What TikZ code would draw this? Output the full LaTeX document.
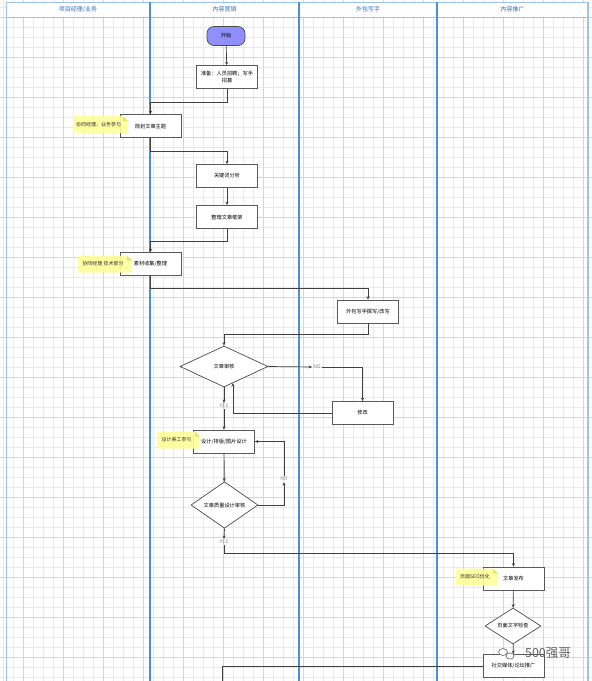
\documentclass[tikz,border=0pt]{standalone}
\usepackage{fontspec}
\setmainfont{Noto Sans CJK SC}
\usetikzlibrary{shapes.geometric,arrows.meta,shadows,calc}
\definecolor{lane}{HTML}{4A90D9}
\definecolor{lanelight}{HTML}{9CC3EA}
\definecolor{hdrtext}{HTML}{2F6FC0}
\definecolor{minorg}{HTML}{EAEAEA}
\definecolor{majorg}{HTML}{D6D6D6}
\definecolor{notey}{HTML}{FFFF99}
\definecolor{startfill}{HTML}{8F8FFF}
\tikzset{
  stepbox/.style={draw=black!65, fill=white, line width=0.7pt, minimum width=61pt, minimum height=23pt,
    inner sep=1pt, align=center, font=\fontsize{5.2}{6.4}\selectfont,
    drop shadow={opacity=0.25, shadow xshift=0.8pt, shadow yshift=-0.8pt}},
  decision/.style={diamond, draw=black!70, fill=white, line width=0.7pt, inner sep=0pt,
    font=\fontsize{5.2}{6.4}\selectfont},
  startbox/.style={draw=black!70, fill=startfill, rounded corners=7pt, line width=0.7pt,
    minimum width=38pt, minimum height=19pt, font=\fontsize{5.2}{6.4}\selectfont},
  notetext/.style={inner sep=0pt, font=\fontsize{5}{6}\selectfont, text=black!80},
  lbl/.style={inner sep=1pt, font=\fontsize{5}{6}\selectfont, text=black!45},
  arr/.style={draw=black!75, line width=0.7pt, -{Stealth[length=3.5pt,width=3pt]}},
  ln/.style={draw=black!75, line width=0.7pt},
  hdr/.style={draw=lanelight, fill=white, line width=0.8pt, font=\fontsize{6}{7}\selectfont, text=hdrtext}
}
\begin{document}
\begin{tikzpicture}[x=1pt,y=-1pt]
\useasboundingbox (0,0) rectangle (592,681);
\fill[white] (0,0) rectangle (592,681);
% grid
\foreach \x in {3.5,13.5,...,593.5} \draw[minorg, line width=0.4pt] (\x,0) -- (\x,681);
\foreach \y in {7,17,...,687} \draw[minorg, line width=0.4pt] (0,\y) -- (592,\y);
\foreach \x in {23.5,63.5,...,583.5} \draw[majorg, line width=0.5pt] (\x,0) -- (\x,681);
\foreach \y in {17,57,...,697} \draw[majorg, line width=0.5pt] (0,\y) -- (592,\y);
% headers
\node[hdr, minimum width=144pt, minimum height=15pt, inner sep=0pt] (h1) at (78,9.5) {项目经理/业务};
\node[hdr, minimum width=149pt, minimum height=15pt, inner sep=0pt] (h2) at (224.5,9.5) {内容营销};
\node[hdr, minimum width=138pt, minimum height=15pt, inner sep=0pt] (h3) at (368,9.5) {外包写手};
\node[hdr, minimum width=151pt, minimum height=15pt, inner sep=0pt] (h4) at (512.5,9.5) {内容推广};
% lane lines
\draw[lanelight, line width=0.9pt] (6,2) -- (6,681);
\draw[lane, line width=1.2pt] (150,2) -- (150,681);
\draw[lane, line width=1.2pt] (299,2) -- (299,681);
\draw[lane, line width=1.2pt] (437,2) -- (437,681);
\draw[lanelight, line width=1.2pt] (588,2) -- (588,681);
% nodes
\node[startbox] (start) at (226,36) {开始};
\node[stepbox] (prep) at (227,77) {准备：人员招聘；写手\\招募};
\node[stepbox] (plan) at (150.5,126) {规划文章主题};
\node[stepbox] (kw) at (227,176) {关键词分析};
\node[stepbox] (frame) at (227,217) {整理文章框架};
\node[stepbox] (mat) at (150.5,264) {素材收集/整理};
\node[stepbox] (write) at (368,311.5) {外包写手撰写/改写};
\node[decision, minimum width=88pt, minimum height=41pt] (d1) at (224,366.5) {文章审核};
\node[lbl] (no1) at (317,367) {NO};
\node[stepbox] (fix) at (362.5,413) {修改};
\node[lbl] (yes1) at (224,406) {YES};
\node[stepbox] (design) at (224,441.5) {设计/排版/图片设计};
\node[decision, minimum width=67pt, minimum height=32pt] (d2) at (224.5,505) {文章质量设计审核};
\node[lbl] (no2) at (284,479) {NO};
\node[lbl] (yes2) at (224,542) {YES};
\node[stepbox] (pub) at (513.5,578.5) {文章发布};
\node[decision, minimum width=56pt, minimum height=22pt] (d3) at (513,626) {页面文字检查};
\node[stepbox] (social) at (513.5,666) {社交媒体/论坛推广};
\coordinate (out) at (222,681);
% connectors
\draw[arr] (start) -- (prep);
\draw[arr] (prep.south) -- ++(0,13) -| (plan.north);
\draw[arr] (plan.south) -- ++(0,13) -| (kw.north);
\draw[arr] (kw) -- (frame);
\draw[arr] (frame.south) -- ++(0,12) -| (mat.north);
\draw[arr] (mat.south) -- ++(0,12) -| (write.north);
\draw[arr] (write.south) -- ++(0,11) -| (d1.north);
\draw[arr] (d1.east) -- (no1.west);
\draw[arr] (no1.east) -| (fix.north);
\draw[arr] (fix.west) -| ($(d1.south)!0.2!(d1.east)$);
\draw[arr] (d1.south) -- (yes1.north);
\draw[arr] (yes1.south) -- (design.north);
\draw[arr] (design) -- (d2);
\draw[arr] (d2.east) -| (no2.south);
\draw[arr] (no2.north) |- (design.east);
\draw[arr] (d2.south) -- (yes2.north);
\draw[arr] (yes2.south) -- ++(0,8) -| (pub.north);
\draw[arr] (pub) -- (d3);
\draw[arr] (d3) -- (social);
\draw[ln] (social.west) -| (out);
% notes
\foreach \nm/\cx/\cy/\w/\t in {n1/100.5/124.5/55/{协同经理，业务参与}, n2/105/264/54/{协同经理  技术部分}, n3/178.5/440/43/{设计美工参与}, n4/477/577/42/{页面SEO优化}}{
  \fill[notey, opacity=0.9] (\cx-\w/2,\cy-8.5) -- (\cx+\w/2-5,\cy-8.5) -- (\cx+\w/2,\cy-3.5) -- (\cx+\w/2,\cy+8.5) -- (\cx-\w/2,\cy+8.5) -- cycle;
  \fill[yellow!70!olive!60] (\cx+\w/2-5,\cy-8.5) -- (\cx+\w/2-5,\cy-3.5) -- (\cx+\w/2,\cy-3.5) -- cycle;
  \node[notetext] (\nm) at (\cx-2,\cy) {\t};
}
% watermark
\draw[black!55, line width=0.7pt, fill=white] (503,652) ellipse (4.5pt and 3.5pt);
\draw[black!55, line width=0.7pt, fill=white] (510,656) ellipse (4pt and 3.1pt);
\node[inner sep=0pt, font=\fontsize{12.5}{14}\selectfont, text=black!62] (wm) at (548,653) {500强哥};
\end{tikzpicture}
\end{document}
